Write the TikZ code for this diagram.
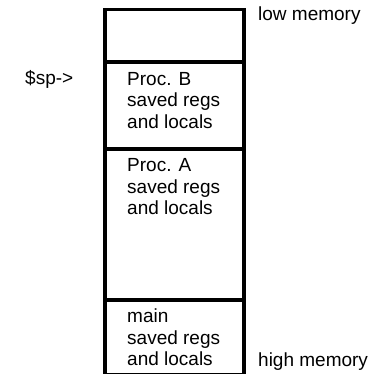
\documentclass[tikz,border=0pt]{standalone}
\usepackage{fontspec}
\setmainfont{Liberation Sans}
\begin{document}
\begin{tikzpicture}[x=1bp,y=-1bp,
  frame/.style={line width=3.6bp, line cap=rect},
  label/.style={inner sep=0pt, anchor=base west, align=left,
    font=\fontsize{19bp}{21.5bp}\selectfont}]
  \useasboundingbox (0,0) rectangle (384,374);
  \begin{scope}
    \clip (0,0) rectangle (384,374);
    % stack frame column
    \draw[frame] (105,9.5) rectangle (244,374.8);
    \draw[frame] (105,62) -- (244,62);
    \draw[frame] (105,149) -- (244,149);
    \draw[frame] (105,300) -- (244,300);
  \end{scope}
  % frame contents (base anchor sits on the last line)
  \node[label] (procb) at (127,128) {Proc. B\\saved regs\\and locals};
  \node[label] (proca) at (127,214.5) {Proc. A\\saved regs\\and locals};
  \node[label] (main) at (127,365.5) {main\\saved regs\\and locals};
  % side labels
  \node[label] (low) at (258,20) {low memory};
  \node[label] (high) at (258,366) {high memory};
  \node[label] (sp) at (25,84.5) {\$sp->};
\end{tikzpicture}
\end{document}
